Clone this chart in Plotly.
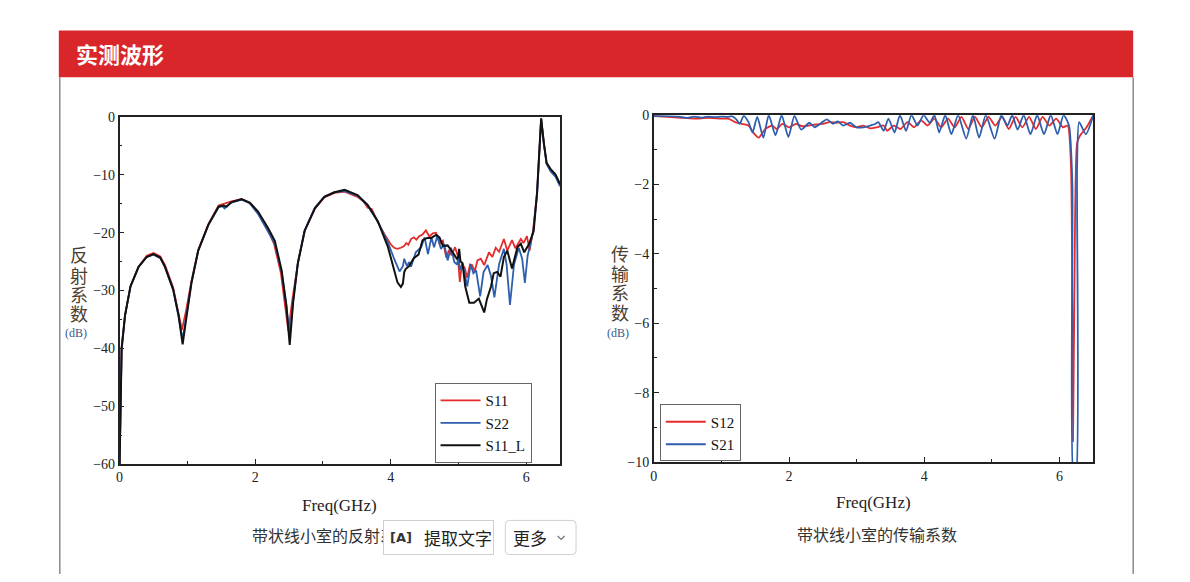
import plotly.graph_objects as go

W, H = 1190, 582

# ---- reflection (left chart) ----
s11l_x = [0.0, 0.01, 0.03, 0.08, 0.16, 0.28, 0.4, 0.5, 0.6, 0.67, 0.79, 0.87, 0.93, 0.99, 1.06, 1.16,
          1.31, 1.46, 1.53, 1.58, 1.65, 1.8, 1.92, 2.04, 2.19, 2.29, 2.39, 2.46, 2.51, 2.56, 2.63, 2.73,
          2.88, 3.02, 3.17, 3.32, 3.51, 3.66, 3.81, 3.96, 4.05, 4.1, 4.15, 4.18, 4.2, 4.22, 4.27, 4.34,
          4.41, 4.47, 4.54, 4.6, 4.67, 4.72, 4.77, 4.84, 4.91, 4.98, 5.0, 5.01, 5.03, 5.06, 5.1, 5.16,
          5.23, 5.3, 5.38, 5.42, 5.48, 5.52, 5.57, 5.62, 5.67, 5.72, 5.79, 5.87, 5.92, 5.97, 6.04, 6.11,
          6.16, 6.2, 6.22, 6.26, 6.3, 6.36, 6.43, 6.5]
s11l_y = [-60.0, -50.0, -40.0, -34.3, -29.3, -25.9, -24.2, -23.7, -24.3, -25.9, -29.8, -34.3, -39.3,
          -34.3, -28.7, -23.1, -18.6, -15.5, -15.3, -15.5, -14.7, -14.2, -14.8, -16.3, -19.2, -21.4,
          -26.5, -32.6, -39.4, -32.1, -25.3, -19.7, -15.8, -13.8, -13.0, -12.6, -13.5, -15.2, -18.0,
          -22.5, -26.7, -28.6, -29.4, -28.8, -26.8, -26.3, -25.8, -24.4, -23.8, -21.3, -20.9, -20.9,
          -20.4, -20.8, -22.3, -22.2, -23.3, -24.6, -24.0, -22.8, -25.0, -25.3, -29.3, -32.1, -32.1,
          -31.4, -33.8, -31.5, -29.3, -27.0, -26.8, -27.6, -24.2, -23.1, -26.2, -22.5, -21.9, -23.4,
          -22.0, -19.7, -13.0, -4.6, -0.2, -4.5, -7.9, -9.0, -9.9, -11.6]

s11_x = [0.0, 0.01, 0.03, 0.08, 0.16, 0.28, 0.4, 0.5, 0.6, 0.67, 0.79, 0.86, 0.92, 0.98, 1.06, 1.16,
         1.31, 1.46, 1.53, 1.6, 1.65, 1.8, 1.92, 2.04, 2.19, 2.28, 2.38, 2.44, 2.49, 2.55, 2.63, 2.73,
         2.88, 3.02, 3.17, 3.32, 3.51, 3.6, 3.66, 3.72, 3.81, 3.91, 4.0, 4.05, 4.1, 4.15, 4.2, 4.23,
         4.26, 4.3, 4.34, 4.38, 4.42, 4.47, 4.52, 4.57, 4.62, 4.67, 4.72, 4.77, 4.82, 4.86, 4.9, 4.95,
         4.99, 5.02, 5.05, 5.09, 5.13, 5.17, 5.2, 5.24, 5.28, 5.33, 5.38, 5.45, 5.5, 5.55, 5.6, 5.67,
         5.72, 5.79, 5.84, 5.92, 5.96, 6.01, 6.05, 6.1, 6.16, 6.2, 6.22, 6.26, 6.3, 6.36, 6.43, 6.5]
s11_y = [-60.0, -50.0, -40.0, -34.3, -29.3, -25.9, -24.0, -23.5, -24.1, -25.6, -29.5, -33.5, -36.8,
         -33.5, -28.4, -23.0, -18.5, -15.3, -15.0, -14.7, -14.6, -14.2, -14.9, -16.6, -19.6, -22.0,
         -27.0, -32.5, -37.0, -31.5, -25.3, -19.7, -15.9, -13.9, -13.1, -12.9, -13.8, -14.6, -15.7,
         -15.9, -18.2, -20.3, -22.0, -22.6, -22.8, -22.6, -22.3, -21.8, -22.1, -21.1, -20.8, -21.2,
         -20.6, -20.3, -19.6, -20.7, -20.1, -20.0, -21.9, -21.4, -24.3, -23.0, -23.9, -22.5, -24.0,
         -28.5, -25.5, -26.0, -27.8, -25.5, -25.6, -26.7, -24.8, -24.5, -25.6, -23.4, -24.2, -22.6,
         -23.3, -21.1, -23.1, -21.3, -22.7, -21.1, -21.8, -20.6, -23.1, -19.7, -13.0, -4.5, -0.3,
         -4.5, -8.0, -9.2, -10.0, -11.8]

s22_x = [0.0, 0.01, 0.03, 0.08, 0.16, 0.28, 0.4, 0.5, 0.6, 0.67, 0.79, 0.87, 0.93, 0.99, 1.06, 1.16,
         1.31, 1.46, 1.51, 1.55, 1.6, 1.65, 1.8, 1.92, 2.04, 2.19, 2.29, 2.39, 2.46, 2.51, 2.56, 2.63,
         2.73, 2.88, 3.02, 3.17, 3.32, 3.51, 3.66, 3.81, 3.96, 4.05, 4.13, 4.18, 4.2, 4.24, 4.27, 4.3,
         4.34, 4.37, 4.45, 4.5, 4.55, 4.6, 4.64, 4.69, 4.74, 4.79, 4.84, 4.89, 4.94, 4.98, 5.0, 5.02,
         5.06, 5.1, 5.13, 5.18, 5.22, 5.26, 5.32, 5.37, 5.43, 5.48, 5.53, 5.6, 5.67, 5.71, 5.76, 5.82,
         5.89, 5.94, 5.98, 6.02, 6.06, 6.1, 6.16, 6.2, 6.22, 6.26, 6.3, 6.36, 6.43, 6.5]
s22_y = [-60.0, -50.0, -40.0, -34.3, -29.3, -25.9, -24.2, -23.8, -24.4, -26.0, -29.9, -34.5, -38.5,
         -34.0, -28.6, -23.1, -18.7, -15.6, -15.4, -15.8, -15.2, -14.8, -14.3, -14.9, -16.7, -19.8,
         -21.9, -26.7, -32.4, -38.0, -31.8, -25.2, -19.6, -15.7, -13.8, -13.0, -12.8, -13.6, -15.3,
         -18.1, -21.7, -24.5, -26.7, -25.8, -24.5, -25.8, -25.1, -25.9, -24.4, -23.4, -22.5, -20.8,
         -23.7, -20.8, -22.5, -20.5, -22.8, -22.0, -24.8, -22.6, -25.1, -25.5, -24.0, -26.5, -25.3,
         -28.0, -29.3, -25.5, -27.0, -26.5, -31.0, -26.8, -25.6, -27.5, -31.2, -25.4, -22.8, -25.5,
         -32.5, -25.5, -22.6, -24.5, -28.7, -24.0, -22.0, -20.0, -13.5, -5.0, -0.3, -4.6, -8.1,
         -9.4, -10.3, -12.0]

# ---- transmission (right chart) ----
s12_x = [0.0, 0.2, 0.4, 0.6, 0.8, 1.0, 1.1, 1.2, 1.3, 1.4, 1.47, 1.55, 1.65, 1.75, 1.82, 1.9, 2.0,
         2.1, 2.2, 2.35, 2.5, 2.6, 2.7, 2.8, 2.9, 3.0, 3.1, 3.2, 3.3, 3.4, 3.45, 3.55, 3.65, 3.75,
         3.85, 3.95, 4.05, 4.15, 4.25, 4.35, 4.45, 4.55, 4.65, 4.75, 4.85, 4.95, 5.05, 5.15, 5.25,
         5.35, 5.45, 5.55, 5.65, 5.75, 5.85, 5.95, 6.05, 6.12, 6.17, 6.2, 6.23, 6.26, 6.3, 6.4, 6.5]
s12_y = [-0.03, -0.05, -0.08, -0.1, -0.08, -0.1, -0.1, -0.2, -0.25, -0.3, -0.5, -0.65, -0.4, -0.3,
         -0.4, -0.25, -0.35, -0.25, -0.32, -0.28, -0.25, -0.2, -0.22, -0.2, -0.3, -0.35, -0.3, -0.38,
         -0.35, -0.3, -0.45, -0.3, -0.4, -0.2, -0.35, -0.15, -0.3, -0.1, -0.35, -0.1, -0.35, -0.05,
         -0.4, -0.05, -0.35, -0.05, -0.3, -0.05, -0.4, -0.05, -0.35, -0.05, -0.4, -0.05, -0.3, -0.1,
         -0.35, -0.3, -1.5, -9.4, -3.0, -0.8, -0.6, -0.35, 0.0]

s21_x = [0.0, 0.2, 0.4, 0.5, 0.6, 0.7, 0.8, 0.9, 1.0, 1.1, 1.15, 1.22, 1.27, 1.33, 1.4, 1.46, 1.53,
         1.62, 1.7, 1.8, 1.89, 1.99, 2.08, 2.18, 2.3, 2.38, 2.48, 2.56, 2.65, 2.72, 2.8, 2.9, 3.0,
         3.1, 3.2, 3.28, 3.32, 3.4, 3.47, 3.56, 3.64, 3.73, 3.81, 3.9, 3.99, 4.08, 4.15, 4.22, 4.31,
         4.4, 4.5, 4.62, 4.72, 4.81, 4.91, 5.04, 5.14, 5.23, 5.3, 5.38, 5.47, 5.57, 5.67, 5.77, 5.87,
         5.97, 6.06, 6.14, 6.19, 6.21, 6.24, 6.26, 6.29, 6.39, 6.5]
s21_y = [-0.02, -0.03, -0.05, -0.08, -0.04, -0.07, -0.04, -0.06, -0.04, -0.05, -0.03, -0.12, -0.25,
         -0.02, -0.2, -0.5, -0.05, -0.65, 0.0, -0.58, 0.0, -0.63, -0.02, -0.42, -0.22, -0.35, -0.22,
         -0.12, -0.25, -0.18, -0.3, -0.22, -0.35, -0.35, -0.3, -0.25, -0.2, -0.45, -0.1, -0.5, 0.0,
         -0.45, 0.0, -0.3, 0.0, -0.22, 0.0, -0.5, 0.0, -0.55, 0.0, -0.68, 0.0, -0.65, 0.0, -0.68, 0.0,
         -0.3, 0.0, -0.42, 0.0, -0.55, 0.0, -0.55, 0.0, -0.55, 0.0, -0.3, -2.0, -10.5, -10.5, -1.5,
         -0.2, -0.55, 0.0]

RED = "#e52b2b"
BLUE = "#2d5fae"
BLACK = "#111111"
SERIF = "Liberation Serif"
CJK = "Noto Sans CJK SC"


def px(x):
    return x / W


def py(y):
    return 1 - y / H


def rounded_rect(x0, y0, x1, y1, r):
    # path in paper coords for a rectangle with rounded corners (pixel inputs)
    return (f"M {px(x0 + r)} {py(y0)} L {px(x1 - r)} {py(y0)} Q {px(x1)} {py(y0)} {px(x1)} {py(y0 + r)} "
            f"L {px(x1)} {py(y1 - r)} Q {px(x1)} {py(y1)} {px(x1 - r)} {py(y1)} "
            f"L {px(x0 + r)} {py(y1)} Q {px(x0)} {py(y1)} {px(x0)} {py(y1 - r)} "
            f"L {px(x0)} {py(y0 + r)} Q {px(x0)} {py(y0)} {px(x0 + r)} {py(y0)} Z")


fig = go.Figure()
fig.add_trace(go.Scatter(x=s11_x, y=s11_y, name="S11", mode="lines", line=dict(color=RED, width=1.8),
                         xaxis="x", yaxis="y", legend="legend"))
fig.add_trace(go.Scatter(x=s22_x, y=s22_y, name="S22", mode="lines", line=dict(color=BLUE, width=1.8),
                         xaxis="x", yaxis="y", legend="legend"))
fig.add_trace(go.Scatter(x=s11l_x, y=s11l_y, name="S11_L", mode="lines", line=dict(color=BLACK, width=2),
                         xaxis="x", yaxis="y", legend="legend"))
fig.add_trace(go.Scatter(x=s12_x, y=s12_y, name="S12", mode="lines",
                         line=dict(color=RED, width=1.8, shape="spline", smoothing=0.6),
                         xaxis="x2", yaxis="y2", legend="legend2"))
fig.add_trace(go.Scatter(x=s21_x, y=s21_y, name="S21", mode="lines",
                         line=dict(color=BLUE, width=1.8, shape="spline", smoothing=0.6),
                         xaxis="x2", yaxis="y2", legend="legend2"))

axis_common = dict(showline=True, linecolor="#222", linewidth=1.5, mirror=True, showgrid=False,
                   zeroline=False, ticks="inside", ticklen=5, tickcolor="#222", tickwidth=1,
                   tickfont=dict(family=SERIF, size=14, color="#222"))


def minor(step):
    return dict(ticks="inside", ticklen=3, tickcolor="#222", dtick=step)


legend_style = dict(xanchor="left", yanchor="top", bgcolor="white", bordercolor="#666", borderwidth=1,
                    font=dict(family=SERIF, size=15, color="#111"), tracegroupgap=0, itemwidth=40)

fig.update_layout(
    autosize=True, margin=dict(l=0, r=0, t=0, b=0),
    paper_bgcolor="white", plot_bgcolor="white",
    xaxis=dict(domain=[px(116), px(558)], range=[0, 6.5], tick0=0, dtick=2, anchor="y",
               minor=minor(1), **axis_common),
    yaxis=dict(domain=[py(469), py(113)], range=[-60, 0], dtick=10, anchor="x",
               minor=minor(5), **axis_common),
    xaxis2=dict(domain=[px(652), px(1093)], range=[0, 6.5], tick0=0, dtick=2, anchor="y2",
                minor=minor(1), **axis_common),
    yaxis2=dict(domain=[py(467), py(111)], range=[-10, 0], dtick=2, anchor="x2",
                minor=minor(1), **axis_common),
    legend=dict(x=px(432), y=py(386), **legend_style),
    legend2=dict(x=px(658), y=py(408), **legend_style),
    showlegend=True,
)

shapes = [
    # red header band
    dict(type="rect", xref="paper", yref="paper", x0=px(55), x1=px(1133), y0=py(72), y1=py(24),
         fillcolor="#d8262b", line=dict(width=0), layer="below"),
    # side border lines of the panel
    dict(type="line", xref="paper", yref="paper", x0=px(56), x1=px(56), y0=py(72), y1=py(582),
         line=dict(color="#8a8a8a", width=1.5)),
    dict(type="line", xref="paper", yref="paper", x0=px(1133), x1=px(1133), y0=py(72), y1=py(582),
         line=dict(color="#8a8a8a", width=1.5)),
    # "more" button with its chevron
    dict(type="path", xref="paper", yref="paper", path=rounded_rect(503, 527, 574, 562, 4),
         fillcolor="white", line=dict(color="#cfcfcf", width=1)),
    dict(type="path", xref="paper", yref="paper",
         path=f"M {px(555.5)} {py(543)} L {px(559)} {py(546.5)} L {px(562.5)} {py(543)}",
         line=dict(color="#777", width=1.3)),
]
fig.update_layout(shapes=shapes)

annotations = [
    dict(text="<b>实测波形</b>", x=px(70), y=py(47), xanchor="left", yanchor="middle",
         font=dict(family=CJK, size=22, color="white")),
    dict(text="Freq(GHz)", x=px(337), y=py(512), xanchor="center", yanchor="middle",
         font=dict(family=SERIF, size=17, color="#222")),
    dict(text="Freq(GHz)", x=px(872), y=py(509), xanchor="center", yanchor="middle",
         font=dict(family=SERIF, size=17, color="#222")),
    dict(text="(dB)", x=px(72), y=py(335), xanchor="center", yanchor="middle",
         font=dict(family=SERIF, size=12, color="#3d5a8c")),
    dict(text="(dB)", x=px(616), y=py(335), xanchor="center", yanchor="middle",
         font=dict(family=SERIF, size=12, color="#3d5a8c")),
    dict(text="带状线小室的反射系数", x=px(247), y=py(542), xanchor="left", yanchor="middle",
         font=dict(family=CJK, size=16, color="#333")),
    dict(text="带状线小室的传输系数", x=px(876), y=py(541), xanchor="center", yanchor="middle",
         font=dict(family=CJK, size=16, color="#333")),
    # text-extract button drawn over the caption
    dict(text="提取文字", x=px(380), y=py(562), xanchor="left", yanchor="bottom", align="right",
         width=107, height=31, borderpad=1, borderwidth=1, bordercolor="#cfcfcf", bgcolor="white",
         font=dict(family=CJK, size=17, color="#222")),
    dict(text="<b>[A]</b>", x=px(398), y=py(545), xanchor="center", yanchor="middle",
         font=dict(family="DejaVu Sans", size=13, color="#333")),
    dict(text="更多", x=px(509), y=py(545), xanchor="left", yanchor="middle",
         font=dict(family=CJK, size=17, color="#222")),
]
# vertical (stacked) y-axis titles, one character per line
for ch, yy in zip("反射系数", [254, 275, 295, 314]):
    annotations.append(dict(text=ch, x=px(75), y=py(yy), xanchor="center", yanchor="middle",
                            font=dict(family=CJK, size=18, color="#4d4030")))
for ch, yy in zip("传输系数", [253, 273, 293, 313]):
    annotations.append(dict(text=ch, x=px(618), y=py(yy), xanchor="center", yanchor="middle",
                            font=dict(family=CJK, size=18, color="#4d4030")))
for a in annotations:
    a.update(xref="paper", yref="paper", showarrow=False)
fig.update_layout(annotations=annotations)

page_fix = ("var gd=document.getElementById('{plot_id}');"
            "document.documentElement.style.margin='0';document.body.style.margin='0';"
            "document.documentElement.style.overflow='hidden';document.body.style.overflow='hidden';"
            "gd.style.position='fixed';gd.style.left='0';gd.style.top='0';")

fig.write_html("out.html", config={"displayModeBar": False, "responsive": True},
               default_width="100vw", default_height="100vh", post_script=page_fix)
